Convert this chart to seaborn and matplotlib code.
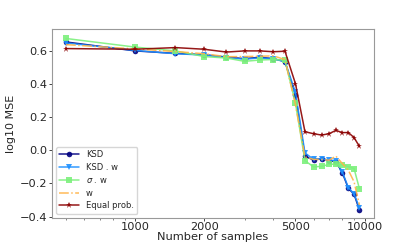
import numpy as np
import pandas as pd
import matplotlib
matplotlib.use("Agg")
import matplotlib.pyplot as plt
import seaborn as sns

samples = [500, 1000, 1500, 2000, 2500, 3000, 3500, 4000, 4500, 5000,
           5500, 6000, 6500, 7000, 7500, 8000, 8500, 9000, 9500]

ksd = [0.654, 0.600, 0.585, 0.577, 0.563, 0.553, 0.562, 0.553, 0.536, 0.333,
       -0.037, -0.058, -0.050, -0.062, -0.068, -0.135, -0.230, -0.265, -0.360]
ksd_w = [0.648, 0.603, 0.583, 0.575, 0.560, 0.550, 0.558, 0.552, 0.535, 0.350,
         -0.016, -0.055, -0.050, -0.060, -0.062, -0.130, -0.225, -0.262, -0.348]
sigma_w = [0.675, 0.623, 0.600, 0.566, 0.557, 0.537, 0.545, 0.548, 0.544, 0.285,
           -0.063, -0.100, -0.097, -0.085, -0.083, -0.088, -0.098, -0.110, -0.232]
w = [0.638, 0.612, 0.596, 0.583, 0.565, 0.566, 0.568, 0.570, 0.548, 0.275,
     -0.040, -0.055, -0.055, -0.060, -0.035, -0.080, -0.120, -0.190, -0.330]
equal_prob = [0.614, 0.610, 0.620, 0.610, 0.593, 0.600, 0.600, 0.595, 0.598, 0.402,
              0.112, 0.100, 0.092, 0.100, 0.120, 0.107, 0.107, 0.077, 0.023]

names = ["KSD", "KSD . w", r"$\sigma$ . w", "w", "Equal prob."]
series = [ksd, ksd_w, sigma_w, w, equal_prob]
colors = ["navy", "dodgerblue", "#7CF07C", "#FFB347", "darkred"]
markers = ["o", "v", "s", "", "*"]
sizes = [4, 4, 4, 0, 4.5]
styles = ["-", "-", "-", "-.", "-"]

df = pd.DataFrame({"samples": samples * len(names),
                   "mse": sum(series, []),
                   "method": sum([[n] * len(samples) for n in names], [])})

sns.set_style("white")
plt.rcParams["axes.edgecolor"] = "0.6"

fig, ax = plt.subplots(figsize=(4.15, 2.44), dpi=100)
for n, c, m, s, ls in zip(names, colors, markers, sizes, styles):
    sub = df[df["method"] == n]
    sns.lineplot(data=sub, x="samples", y="mse", ax=ax, color=c, marker=m if m else None,
                 linestyle=ls, linewidth=1.1, markersize=s,
                 markeredgewidth=0, label=n, alpha=0.9)

ax.set_xscale("log")
ax.set_xticks([1000, 2000, 5000, 10000])
ax.set_xticklabels(["1000", "2000", "5000", "10000"])
ax.set_yticks([-0.4, -0.2, 0.0, 0.2, 0.4, 0.6])
ax.set_ylim(-0.408, 0.732)
ax.set_xlim(434, 10940)
ax.tick_params(axis="both", labelsize=8.2, length=2, width=0.6, pad=1, left=True, bottom=True)
ax.tick_params(axis="x", which="minor", length=1.5, width=0.4, bottom=True)
ax.set_xlabel("Number of samples", fontsize=8.2, labelpad=0)
ax.set_ylabel("log10 MSE", fontsize=8, labelpad=3)
ax.legend(loc="lower left", fontsize=6, frameon=True, handlelength=2.4,
          borderpad=0.4, labelspacing=0.45)
fig.subplots_adjust(left=0.125, right=0.9, bottom=0.107, top=0.881)
fig.savefig("out.png", dpi=100)
